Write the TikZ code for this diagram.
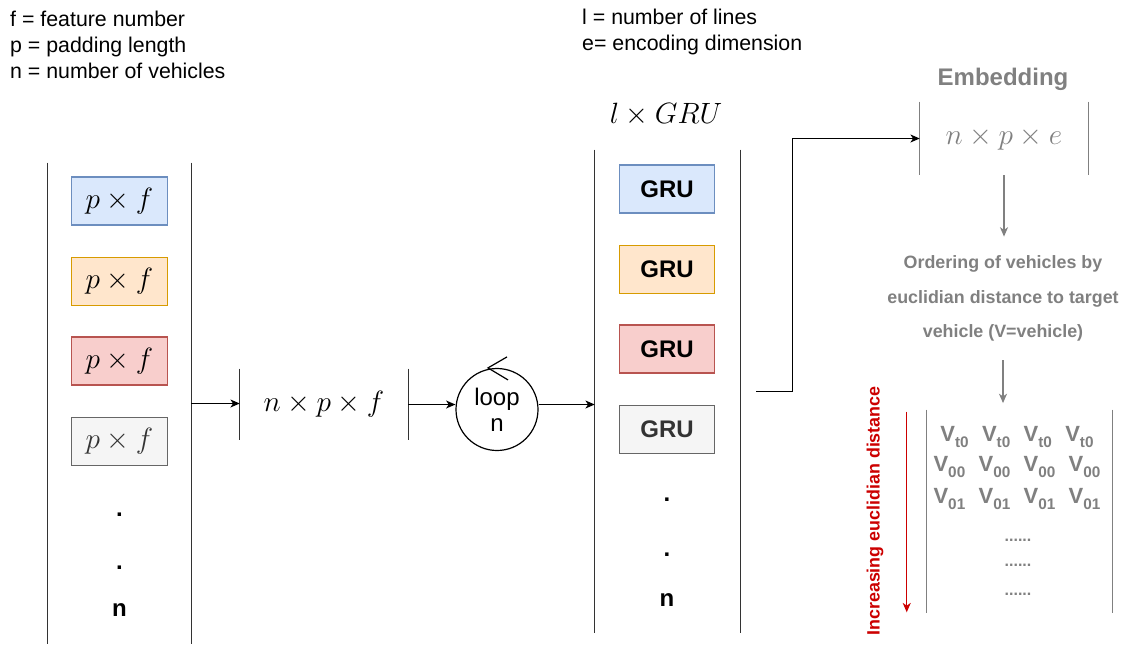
\RequirePackage{fix-cm}
\documentclass[tikz,border=0pt]{standalone}
\usepackage[no-math]{fontspec}
\setmainfont{Liberation Sans}
\usetikzlibrary{arrows.meta,positioning,calc}

\definecolor{blueFill}{HTML}{DAE8FC}
\definecolor{blueLine}{HTML}{6C8EBF}
\definecolor{orangeFill}{HTML}{FFE6CC}
\definecolor{orangeLine}{HTML}{D79B00}
\definecolor{redFill}{HTML}{F8CECC}
\definecolor{redLine}{HTML}{B85450}
\definecolor{greyFill}{HTML}{F5F5F5}
\definecolor{greyLine}{HTML}{666666}
\definecolor{greyText}{HTML}{333333}
\definecolor{embGrey}{HTML}{808080}
\definecolor{distRed}{HTML}{CC0000}

\newcommand{\mathsize}{\fontsize{22}{26}\selectfont}
\newcommand{\veh}[1]{V\raisebox{-0.45ex}{\fontsize{11.5}{12}\selectfont #1}}
\newcommand{\vehrow}[1]{\veh{#1}\hspace{10pt}\veh{#1}\hspace{10pt}\veh{#1}\hspace{10pt}\veh{#1}}

\begin{document}
\begin{tikzpicture}
[x=0.75pt,y=-0.75pt,
legend/.style={anchor=west,align=left,font=\fontsize{16}{19.5}\selectfont},
column/.style={inner sep=0pt},
bar/.style={line width=1pt,draw=black!80},
cell/.style={draw,line width=0.8pt,minimum width=71.5pt,minimum height=36pt,inner sep=0pt},
dots/.style={font=\fontsize{18}{20}\selectfont\bfseries},
dedge/.style={-{Stealth[length=7pt,width=6pt,inset=2pt]},line width=0.9pt},
greytxt/.style={text=embGrey,font=\fontsize{13.4}{26}\selectfont\bfseries}]

\useasboundingbox (0,0) rectangle (1124,644);

% legends
\node[legend] (legLeft) at (5.5,45) {f = feature number\\p = padding length\\n = number of vehicles};
\node[legend] (legRight) at (577.5,32) {l = number of lines\\e= encoding dimension};

% input column
\node[column,minimum width=107.25pt,minimum height=361pt] (inCol) at (119.5,403.5) {};
\draw[bar] (inCol.north west) -- (inCol.south west);
\draw[bar] (inCol.north east) -- (inCol.south east);
\foreach \y/\fc/\lc/\tc [count=\i] in {201/blueFill/blueLine/black,281.5/orangeFill/orangeLine/black,361/redFill/redLine/black,441.5/greyFill/greyLine/greyText}
\node[cell,fill=\fc,draw=\lc,text=\tc,font=\mathsize] (in\i) at (119.5,\y) {$p\times f$};
\node[dots] (inDotA) at (119.5,515) {.};
\node[dots] (inDotB) at (119.5,568) {.};
\node[dots] (inN) at (119.5,610) {n};

% flattened block
\node[column,minimum width=126pt,minimum height=53.25pt,font=\mathsize] (flat) at (324,404.5) {$n\times p\times f$};
\draw[bar] (flat.north west) -- (flat.south west);
\draw[bar] (flat.north east) -- (flat.south east);
\draw[dedge] (inCol.east) -- (inCol.east -| flat.west);

% GRU stack
\node[font=\mathsize] (gruTitle) at (666,115) {$l\times GRU$};
\node[column,minimum width=108.75pt,minimum height=362.25pt] (gruCol) at (667.5,391.5) {};
\draw[bar] (gruCol.north west) -- (gruCol.south west);
\draw[bar] (gruCol.north east) -- (gruCol.south east);
\foreach \y/\fc/\lc/\tc [count=\i] in {189/blueFill/blueLine/black,269.5/orangeFill/orangeLine/black,349/redFill/redLine/black,429.5/greyFill/greyLine/greyText}
\node[cell,fill=\fc,draw=\lc,text=\tc,font=\fontsize{18}{20}\selectfont\bfseries] (gru\i) at (667,\y) {GRU};
\node[dots] (gruDotA) at (667,500) {.};
\node[dots] (gruDotB) at (667,555) {.};
\node[dots] (gruN) at (667,600) {n};

% loop over vehicles
\node[circle,draw,line width=0.9pt,minimum size=61.5pt,inner sep=0pt,align=center,font=\fontsize{18}{19.5}\selectfont] (loop) at (497,409.5) {loop\\n};
\draw[line width=0.9pt] ($(loop.north)+(10,-11)$) -- ($(loop.north)+(-9,0)$) -- ($(loop.north)+(11,12)$);
\draw[dedge] (flat.east) -- (flat.east -| loop.west);
\draw[dedge] (loop.east |- flat.east) -- (gruCol.west |- flat.east);

% embedding
\node[column,minimum width=126pt,minimum height=54.75pt,font=\mathsize,text=embGrey] (emb) at (1004,138.5) {$n\times p\times e$};
\draw[bar,embGrey] (emb.north west) -- (emb.south west);
\draw[bar,embGrey] (emb.north east) -- (emb.south east);
\node[text=embGrey,font=\fontsize{18}{20}\selectfont\bfseries] (embTitle) at (1003,79) {Embedding};
\coordinate (gruOut) at ($(gruCol.east)+(16,0)$);
\draw[dedge] (gruOut) -- ++(36,0) |- (emb.west);

% ordering step
\node[greytxt,align=center,inner ysep=14pt] (order) at (1003,298.5) {Ordering of vehicles by\\euclidian distance to target\\vehicle (V=vehicle)};
\draw[dedge,embGrey] (emb.south) -- (emb.south |- order.north);

% ordered vehicles
\node[column,minimum width=138.75pt,minimum height=152.25pt] (vec) at (1019.5,511.5) {};
\draw[bar,embGrey] (vec.north west) -- (vec.south west);
\draw[bar,embGrey] (vec.north east) -- (vec.south east);
\draw[dedge,embGrey,shorten >=5pt] (order.south) -- (order.south |- vec.north);
\foreach \y/\sub [count=\i] in {437/t0,467/00,499/01}
\node[text=embGrey,font=\fontsize{16.5}{20}\selectfont\bfseries] (row\i) at (1017,\y) {\vehrow{\sub}};
\foreach \y [count=\i] in {540,565,594}
\node[text=embGrey,font=\fontsize{12}{14}\selectfont\bfseries] (gap\i) at (1018,\y) {......};

% distance direction
\coordinate (distTop) at ($(vec.north west)+(-20,2)$);
\coordinate (distBot) at ($(vec.south west)+(-20,-1)$);
\draw[dedge,distRed] (distTop) -- (distBot);
\node[rotate=90,text=distRed,font=\fontsize{13.4}{16}\selectfont\bfseries] (distLabel) at (875,511) {Increasing euclidian distance};
\end{tikzpicture}
\end{document}
